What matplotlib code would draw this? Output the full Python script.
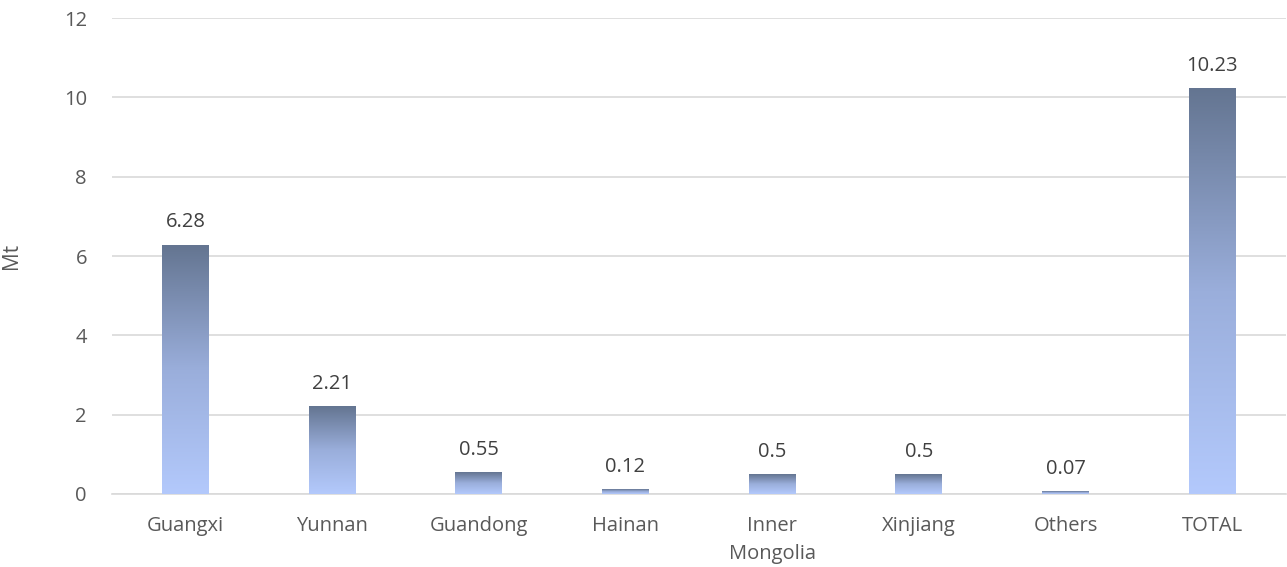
import matplotlib.pyplot as plt
import numpy as np
from matplotlib.colors import LinearSegmentedColormap

categories = ['Guangxi', 'Yunnan', 'Guandong', 'Hainan', 'Inner\nMongolia', 'Xinjiang', 'Others', 'TOTAL']
values = [6.28, 2.21, 0.55, 0.12, 0.5, 0.5, 0.07, 10.23]
labels = ['6.28', '2.21', '0.55', '0.12', '0.5', '0.5', '0.07', '10.23']

plt.rcParams['font.family'] = ['Open Sans', 'DejaVu Sans']
text_color = '#595959'

fig = plt.figure(figsize=(12.87, 5.67), dpi=100)
ax = fig.add_axes([0.087, 0.129, 0.912, 0.839])

x = np.arange(len(categories))
bars = ax.bar(x, values, width=0.32, color='none', zorder=3)

# vertical gradient inside each bar: light at the bottom, dark at the top
cmap = LinearSegmentedColormap.from_list('bar_grad', ['#b3c9fc', '#9aaedb', '#647591'])
grad = np.linspace(0, 1, 256).reshape(-1, 1)
for b in bars:
    x0, w, h = b.get_x(), b.get_width(), b.get_height()
    ax.imshow(grad, cmap=cmap, origin='lower', aspect='auto',
              extent=(x0, x0 + w, 0, h), zorder=3)

for xi, v, lab in zip(x, values, labels):
    ax.annotate(lab, (xi, v), xytext=(0, 9), textcoords='offset points',
                ha='center', va='bottom', fontsize=14.5, color='#404040')

ax.set_xlim(-0.5, len(categories) - 0.5)
ax.set_ylim(0, 12)
ax.set_yticks(range(0, 13, 2))
ax.set_xticks(x)
ax.set_xticklabels(categories, fontsize=14.5, color=text_color, linespacing=1.5)
ax.tick_params(axis='y', labelsize=14.5, labelcolor=text_color, length=0, pad=18)
ax.tick_params(axis='x', length=0, pad=16)
ax.set_ylabel('Mt', fontsize=15, color=text_color)
ax.yaxis.set_label_coords(-0.077, 0.5)

ax.yaxis.grid(True, color='#d9d9d9', linewidth=1.2, zorder=0)
ax.set_axisbelow(True)
for side in ['top', 'right', 'left']:
    ax.spines[side].set_visible(False)
ax.spines['bottom'].set_color('#d9d9d9')
ax.spines['bottom'].set_linewidth(1.2)

fig.savefig('out.png', dpi=100)
